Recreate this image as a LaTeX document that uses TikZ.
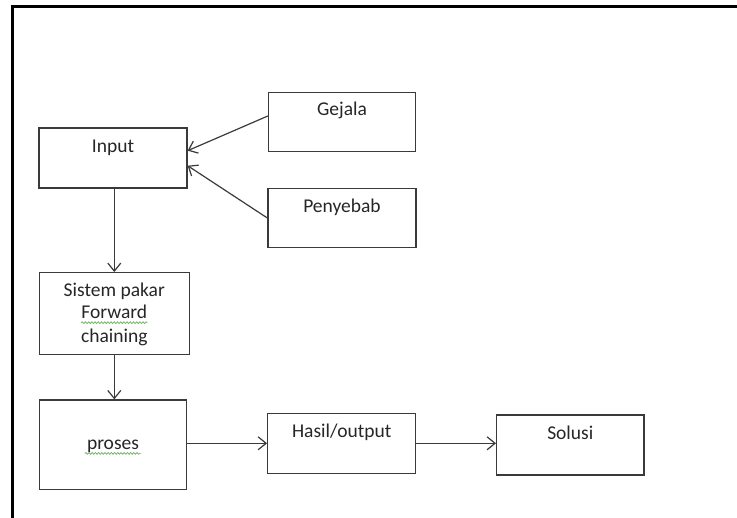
\documentclass[tikz,border=0pt]{standalone}
\usepackage{fontspec}
\setmainfont{Carlito}
\usetikzlibrary{arrows.meta,decorations.pathmorphing}

\definecolor{inkline}{HTML}{3A3A3A}
\definecolor{inktext}{HTML}{262626}
\definecolor{spell}{HTML}{6BAF5A}

\tikzset{
  box/.style={draw=inkline, line width=1.3pt, rectangle, inner sep=0pt},
  txt/.style={inner sep=0pt, text=inktext, font=\fontsize{19.5}{23.5}\selectfont, anchor=base},
  flow/.style={draw=inkline, line width=1.2pt,
    -{Straight Barb[length=8pt,width=13pt,line width=1.2pt]}},
  squiggle/.style={draw=spell, line width=0.7pt,
    decorate, decoration={snake, segment length=3.2pt, amplitude=0.9pt}},
  frame/.style={draw=black, line width=2.6pt}
}

\begin{document}
\begin{tikzpicture}[x=1pt, y=-1pt]
  \useasboundingbox (0,0) rectangle (737,518);

  % outer page frame
  \coordinate (fbl) at (12.5,518);
  \coordinate (ftl) at (12.5,6.5);
  \coordinate (ftr) at (737,6.5);
  \draw[frame] (fbl) -- (ftl) -- (ftr);

  % boxes
  \node[box, minimum width=148pt, minimum height=60pt]   (inp) at (113,158)   {};
  \node[box, minimum width=147pt, minimum height=59pt]   (gej) at (342,121.7) {};
  \node[box, minimum width=148pt, minimum height=59.4pt] (pen) at (342,218)   {};
  \node[box, minimum width=150pt, minimum height=81.6pt] (sis) at (114.3,313.5) {};
  \node[box, minimum width=147.4pt, minimum height=89.3pt] (pro) at (113,444.7) {};
  \node[box, minimum width=148pt, minimum height=60pt]   (has) at (341.7,443.3) {};
  \node[box, minimum width=147.3pt, minimum height=60pt] (sol) at (570.3,445)  {};

  % box texts
  \node[txt] (inpT) at ([yshift=-25.5pt]inp.north) {Input};
  \node[txt] (gejT) at ([yshift=-23.7pt]gej.north) {Gejala};
  \node[txt] (penT) at ([yshift=-24.4pt]pen.north) {Penyebab};
  \node[txt] (sisT1) at ([yshift=-24pt]sis.north)   {Sistem pakar};
  \node[txt] (sisT2) at ([yshift=-46.6pt]sis.north) {Forward};
  \node[txt] (sisT3) at ([yshift=-70.6pt]sis.north) {chaining};
  \node[txt] (proT) at ([yshift=-50pt]pro.north) {proses};
  \node[txt] (hasT) at ([yshift=-25pt]has.north) {Hasil/output};
  \node[txt] (solT) at ([yshift=-25pt]sol.north) {Solusi};

  % spell-check underlines
  \draw[squiggle] ([yshift=-4pt]sisT2.base west) -- ([yshift=-4pt]sisT2.base east);
  \draw[squiggle] ([yshift=-4pt,xshift=-2pt]proT.base west) -- ([yshift=-4pt,xshift=2pt]proT.base east);

  % connectors
  \draw[flow] ([yshift=5.7pt]gej.west) -- ([yshift=7.3pt]inp.east);
  \draw[flow] (pen.west) -- ([yshift=-7.7pt]inp.east);
  \draw[flow] (sis.north |- inp.south) -- (sis.north);
  \draw[flow] (sis.south) -- (sis.south |- pro.north);
  \draw[flow] (pro.east |- has.west) -- (has.west);
  \draw[flow] (has.east) -- (has.east -| sol.west);
\end{tikzpicture}
\end{document}
